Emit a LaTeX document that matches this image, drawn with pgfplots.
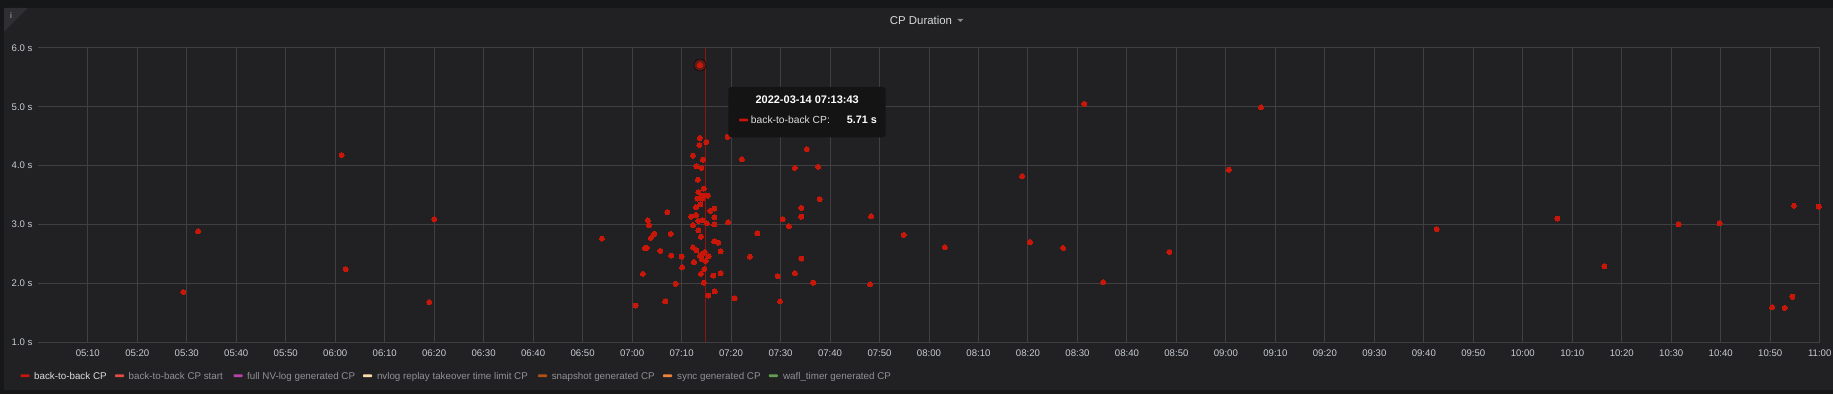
\documentclass[border=0pt]{standalone}
\usepackage{pgfplots}
\pgfplotsset{compat=1.18}
\usepackage{fontspec}
\setmainfont{Liberation Sans}
\definecolor{outerbg}{RGB}{22,23,25}
\definecolor{panelbg}{RGB}{33,33,36}
\definecolor{cornerc}{RGB}{46,46,51}
\definecolor{gridc}{RGB}{64,64,67}
\definecolor{tickc}{RGB}{199,204,209}
\definecolor{titlec}{RGB}{216,217,218}
\definecolor{caretc}{RGB}{135,135,140}
\definecolor{ptred}{RGB}{200,22,8}
\definecolor{crossc}{RGB}{140,20,20}
\definecolor{tipbg}{RGB}{20,20,20}
\definecolor{legon}{RGB}{220,221,222}
\definecolor{legoff}{RGB}{145,145,150}
\definecolor{cstart}{RGB}{226,77,66}
\definecolor{cnvlog}{RGB}{186,67,169}
\definecolor{creplay}{RGB}{250,222,170}
\definecolor{csnap}{RGB}{178,80,20}
\definecolor{csync}{RGB}{239,132,60}
\definecolor{cwafl}{RGB}{98,158,81}
\pgfplotstableread{
x y
29.3 1.85
32.3 2.88
61.3 4.18
62.1 2.24
79.0 1.68
80.0 3.09
113.9 2.76
120.7 1.62
122.2 2.16
122.6 2.60
123.0 2.60
123.2 3.07
123.4 2.99
123.8 2.77
124.5 2.84
125.7 2.55
126.7 1.69
127.1 3.21
127.8 2.84
127.9 2.47
128.8 1.99
130.0 2.45
130.1 2.27
131.9 3.13
132.3 4.17
132.3 2.99
132.3 2.61
132.5 2.36
132.9 3.29
132.9 3.16
133.0 3.99
133.0 2.56
133.2 3.44
133.3 3.76
133.4 3.55
133.4 3.06
133.4 2.90
133.6 4.35
133.7 4.47
133.7 2.47
133.8 3.34
133.9 2.79
133.9 2.16
134.0 3.96
134.1 2.41
134.2 3.49
134.2 3.44
134.2 3.07
134.2 2.50
134.3 4.10
134.5 3.61
134.5 2.01
134.6 2.24
134.7 2.53
134.9 2.38
135.0 4.40
135.1 3.02
135.3 3.49
135.4 1.79
135.5 2.46
135.8 3.23
136.4 2.13
136.6 3.27
136.6 3.12
136.6 3.00
136.6 2.71
136.7 1.86
137.4 2.69
137.9 2.54
137.9 2.17
139.3 4.49
139.4 3.04
140.7 1.74
142.2 4.11
143.8 2.45
145.3 2.85
149.4 2.12
149.9 1.69
150.4 3.09
151.7 2.97
152.9 3.96
152.9 2.17
154.2 3.28
154.2 3.13
154.2 2.42
155.3 4.28
156.6 2.01
157.6 3.98
157.9 3.43
168.1 1.98
168.3 3.14
174.9 2.82
183.2 2.61
198.8 3.82
200.4 2.70
207.1 2.60
211.4 5.05
215.2 2.02
228.6 2.53
240.6 3.93
247.1 4.99
282.6 2.92
307.0 3.10
316.5 2.29
331.5 3.00
339.8 3.02
350.4 1.59
352.9 1.58
354.5 1.77
354.8 3.32
359.8 3.30
}\btb
\begin{document}
\begin{tikzpicture}
\useasboundingbox (0pt,0pt) rectangle (1833pt,394pt);
\fill[outerbg] (0pt,0pt) rectangle (1833pt,394pt);
\fill[panelbg] (4pt,4pt) rectangle (1833pt,386pt);
\fill[cornerc] (4pt,386pt) -- (28pt,386pt) -- (4pt,362pt) -- cycle;
\node[text=caretc, font=\fontsize{8}{8}\selectfont\bfseries, inner sep=0pt] at (11pt,378.5pt) {i};
\node[text=titlec, font=\fontsize{11.4}{13}\selectfont, inner sep=0pt] at (921pt,374pt) {CP Duration};
\fill[caretc] (957.3pt,375pt) -- (963.3pt,375pt) -- (960.3pt,372pt) -- cycle;
\begin{axis}[
  at={(38.3pt,52pt)}, anchor=south west, scale only axis,
  width=1781.4pt, height=294pt,
  xmin=0, xmax=360, ymin=1, ymax=6,
  clip=false,
  axis line style={draw=none},
  tick style={draw=none},
  grid=major,
  major grid style={draw=gridc, line width=1pt},
  xtick={10,20,...,360},
  xticklabels={05:10,05:20,05:30,05:40,05:50,06:00,06:10,06:20,06:30,06:40,06:50,07:00,07:10,07:20,07:30,07:40,07:50,08:00,08:10,08:20,08:30,08:40,08:50,09:00,09:10,09:20,09:30,09:40,09:50,10:00,10:10,10:20,10:30,10:40,10:50,11:00},
  ytick={1,2,3,4,5,6},
  yticklabels={1.0 s,2.0 s,3.0 s,4.0 s,5.0 s,6.0 s},
  xticklabel style={anchor=center, inner sep=0pt, yshift=-11.3pt, text=tickc, font=\fontsize{9.6}{11}\selectfont},
  yticklabel style={anchor=east, inner sep=0pt, xshift=-5.6pt, text=tickc, font=\fontsize{9.6}{11}\selectfont},
]
\draw[crossc, line width=0.8pt] (axis cs:134.83,1) -- (axis cs:134.83,6);
\addplot[only marks, mark=*, mark size=2.5pt, mark options={fill=ptred, draw=ptred, line width=0pt}] table[x=x,y=y] {\btb};
\addplot[only marks, mark=*, mark size=6pt, mark options={fill=ptred, fill opacity=0.35, draw=none}] coordinates {(133.72,5.71)};
\addplot[only marks, mark=*, mark size=2.7pt, mark options={fill=ptred, draw=ptred, line width=0pt}] coordinates {(133.72,5.71)};
\end{axis}
\fill[tipbg, rounded corners=3pt] (728.3pt,256.7pt) rectangle (885.7pt,307pt);
\node[text=white, font=\fontsize{11}{13}\selectfont\bfseries, inner sep=0pt] at (807.2pt,294pt) {2022-03-14 07:13:43};
\fill[ptred, rounded corners=0.8pt] (739pt,272.7pt) rectangle (748pt,275.3pt);
\node[text=legon, font=\fontsize{10.3}{12}\selectfont, inner sep=0pt, anchor=west] at (750.7pt,274pt) {back-to-back CP:};
\node[text=white, font=\fontsize{10.8}{12}\selectfont\bfseries, inner sep=0pt, anchor=west] at (846.7pt,274pt) {5.71 s};
\foreach \mx/\tx/\col/\tc/\lab in {
  20.5/34/ptred/legon/{back-to-back CP},
  115/128.5/cstart/legoff/{back-to-back CP start},
  233.6/247/cnvlog/legoff/{full NV-log generated CP},
  363/376.8/creplay/legoff/{nvlog replay takeover time limit CP},
  538/551.6/csnap/legoff/{snapshot generated CP},
  663/677/csync/legoff/{sync generated CP},
  768.8/782.9/cwafl/legoff/{wafl\_timer generated CP}} {
  \fill[\col, rounded corners=0.8pt] (\mx pt,16.9pt) rectangle ({\mx pt+9pt},19.7pt);
  \node[text=\tc, font=\fontsize{9.8}{11}\selectfont, inner sep=0pt, anchor=base west] at (\tx pt,14.8pt) {\lab};
}
\end{tikzpicture}
\end{document}
